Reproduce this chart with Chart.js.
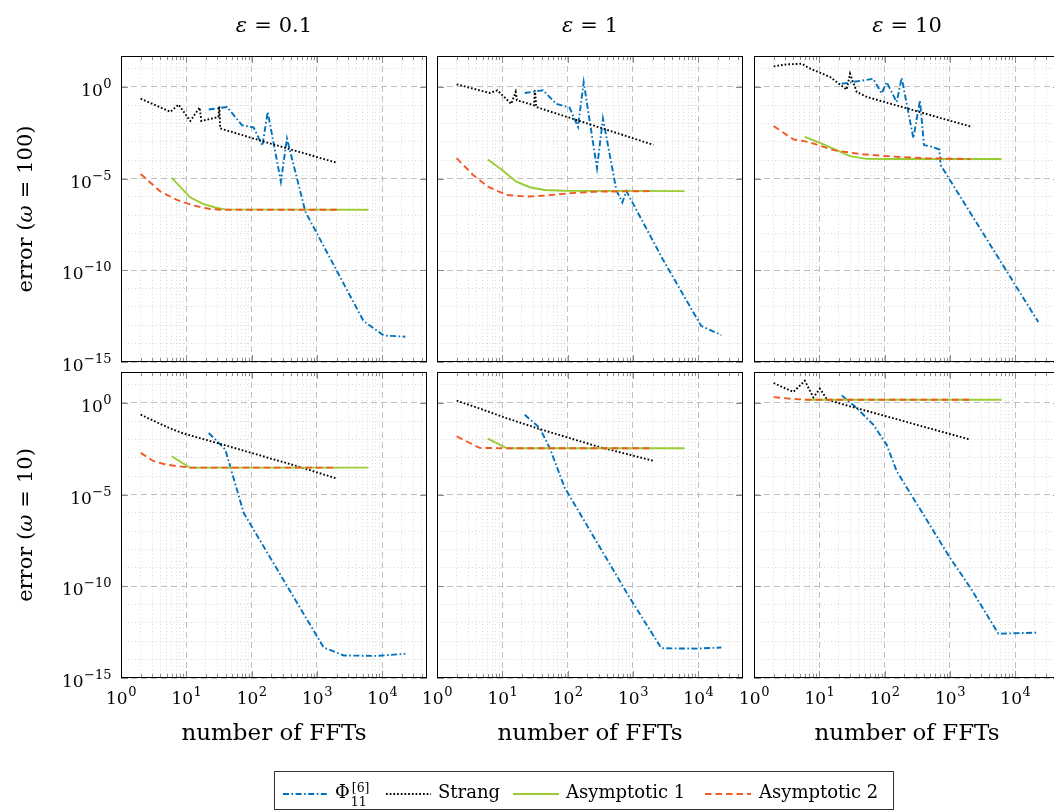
<!DOCTYPE html>
<html>
<head>
<meta charset="utf-8">
<title>Error vs number of FFTs</title>
<script src="https://cdn.jsdelivr.net/npm/chart.js@4.4.1/dist/chart.umd.min.js"></script>
<style>
  html, body { margin: 0; padding: 0; background: #fff; overflow: hidden; }
  #page { position: relative; width: 1054px; height: 810px; overflow: hidden; }
  #page canvas { position: absolute; }
</style>
</head>
<body>
<div id="page"></div>
<script>
// ---- labels ----
const epsLabels = ['0.1', '1', '10'];
const omegaLabels = ['100', '10'];
const seriesNames = ['Phi', 'Strang', 'Asymptotic 1', 'Asymptotic 2'];
const xTickExps = [0, 1, 2, 3, 4];
const yTickExps = [0, -5, -10, -15];

// ---- data, omega = 100 ----
const phiX_w100e01 = [22, 42, 71, 107, 146, 176, 280, 347, 663, 5160, 10500, 22528];
const phiY_w100e01 = [5.9e-2, 8.1e-2, 8.3e-3, 6.2e-3, 6.2e-4, 4.4e-2, 6.9e-6, 1.55e-3, 1.6e-7, 1.7e-13, 2.8e-14, 2.4e-14];
const strX_w100e01 = [2, 5.7, 7.6, 11.5, 16, 17, 31, 32, 33, 135, 2048];
const strY_w100e01 = [2.3e-1, 4.4e-2, 1.1e-1, 1.4e-2, 7.6e-2, 1.4e-2, 2.3e-2, 8.9e-2, 5.5e-3, 1.2e-3, 7.2e-5];
const as1X_w100e01 = [6, 11.5, 18.4, 29.5, 39.5, 6144];
const as1Y_w100e01 = [1.1e-5, 9.3e-7, 4.1e-7, 2.5e-7, 2.1e-7, 2.0e-7];
const as2X_w100e01 = [2, 4, 7.2, 12.9, 23, 37, 2048];
const as2Y_w100e01 = [1.8e-5, 2.0e-6, 6.9e-7, 3.4e-7, 2.2e-7, 2.0e-7, 2.0e-7];

const phiX_w100e1 = [22, 42, 67, 107, 144, 176, 281, 347, 556, 687, 791, 2880, 11100, 22528];
const phiY_w100e1 = [4.7e-1, 6.6e-1, 1.2e-1, 7.5e-2, 6.7e-3, 1.87, 3.7e-5, 1.9e-2, 2.4e-6, 5.0e-7, 2.1e-6, 3.8e-10, 9.1e-14, 2.95e-14];
const strX_w100e1 = [2, 6.4, 8.4, 13.7, 16, 16.7, 30.5, 31.6, 33, 2048];
const strY_w100e1 = [1.4, 4.7e-1, 6.6e-1, 1.2e-1, 5.4e-1, 1.9e-1, 1.0e-1, 6.6e-1, 8.1e-2, 7.0e-4];
const as1X_w100e1 = [6, 9.7, 16.4, 26.2, 44.5, 85, 6144];
const as1Y_w100e1 = [1.1e-4, 3.2e-5, 6.9e-6, 3.4e-6, 2.4e-6, 2.2e-6, 2.1e-6];
const as2X_w100e1 = [2, 3.56, 6, 11.5, 23.3, 47, 107, 275, 2048];
const as2Y_w100e1 = [1.3e-4, 1.6e-5, 3.7e-6, 1.3e-6, 1.05e-6, 1.2e-6, 1.6e-6, 1.95e-6, 2.1e-6];

const phiX_w100e10 = [22, 67, 90, 107, 153, 182, 275, 347, 400, 524, 687, 719, 22528];
const phiY_w100e10 = [1.5, 2.8, 4.4e-1, 1.87, 1.5e-1, 3.2, 1.6e-3, 1.9e-1, 6.8e-4, 5.5e-4, 3.9e-4, 5.5e-5, 1.5e-13];
const strX_w100e10 = [2, 3.16, 5.4, 6.8, 9.7, 14.6, 26.2, 29.5, 37.3, 53, 2048];
const strY_w100e10 = [13.3, 17.1, 18.5, 11.2, 6.5, 3.5, 7.2e-1, 5.3, 5.4e-1, 2.9e-1, 7.0e-3];
const as1X_w100e10 = [6, 10.2, 18.4, 29.5, 53, 121, 6144];
const as1Y_w100e10 = [1.9e-3, 9.0e-4, 3.6e-4, 1.7e-4, 1.2e-4, 1.17e-4, 1.17e-4];
const as2X_w100e10 = [2, 4, 6.8, 16.4, 42, 135, 442, 2048];
const as2Y_w100e10 = [7.3e-3, 1.4e-3, 1.0e-3, 3.6e-4, 2.2e-4, 1.6e-4, 1.3e-4, 1.17e-4];

// ---- data, omega = 10 ----
const phiX_w10e01 = [22, 39.5, 75.5, 1265, 2560, 8280, 22528];
const phiY_w10e01 = [2.3e-2, 2.9e-3, 1.0e-6, 4.6e-14, 1.7e-14, 1.6e-14, 2.1e-14];
const strX_w10e01 = [2, 5.4, 8.6, 33, 494, 2048];
const strY_w10e01 = [2.3e-1, 4.4e-2, 2.3e-2, 5.9e-3, 3.6e-4, 7.4e-5];
const as1X_w10e01 = [6, 11.2, 6144];
const as1Y_w10e01 = [1.25e-3, 3.0e-4, 3.0e-4];
const as2X_w10e01 = [2, 3.16, 4.8, 7.2, 11.2, 2048];
const as2Y_w10e01 = [1.9e-3, 6.7e-4, 4.4e-4, 3.6e-4, 3.0e-4, 3.0e-4];

const phiX_w10e1 = [22, 37.2, 53, 90, 889, 2720, 9330, 22528];
const phiY_w10e1 = [2.3e-1, 4.4e-2, 3.6e-3, 2.4e-5, 2.4e-11, 4.2e-14, 4.0e-14, 4.6e-14];
const strX_w10e1 = [2, 5.1, 11.5, 37.2, 275, 2048];
const strY_w10e1 = [1.34, 4.3e-1, 1.5e-1, 3.8e-2, 4.4e-3, 7.0e-4];
const as1X_w10e1 = [6, 11.8, 6144];
const as1Y_w10e1 = [1.14e-2, 3.4e-3, 3.4e-3];
const as2X_w10e1 = [2, 4.5, 11.8, 2048];
const as2Y_w10e1 = [1.5e-2, 3.55e-3, 3.4e-3, 3.4e-3];

const phiX_w10e10 = [22, 37.2, 67, 107, 153, 1000, 2048, 5500, 22528];
const phiY_w10e10 = [2.6, 5.4e-1, 6.6e-2, 5.4e-3, 1.9e-4, 3.6e-9, 8.5e-11, 2.6e-13, 3.0e-13];
const strX_w10e10 = [2, 4, 6, 8.1, 10.2, 13.2, 29.5, 2048];
const strY_w10e10 = [12.3, 4.0, 16.4, 2.0, 6.0, 1.5, 6.6e-1, 1.0e-2];
const as1X_w10e10 = [6, 6144];
const as1Y_w10e10 = [1.5, 1.5];
const as2X_w10e10 = [2, 4, 6.8, 2048];
const as2Y_w10e10 = [2.1, 1.65, 1.5, 1.5];

// ---- styles ----
const FONT = '"DejaVu Serif", serif';
const seriesColors = ['#0072bd', '#000000', '#9acd32', '#f15a24'];
const seriesDash = [[6, 2.5, 1.6, 2.5], [1.7, 2], [], [6.5, 4]];
const LINE_W = 1.9;

const colLeft = [121, 437, 754];
const rowTop = [56, 372];
const SIZE = 306;
const X_MIN = 1, X_MAX = 48300;
const Y_MIN = 1e-15, Y_MAX = 49;

const panels = [
  { row: 0, col: 0, s: [[phiX_w100e01, phiY_w100e01], [strX_w100e01, strY_w100e01], [as1X_w100e01, as1Y_w100e01], [as2X_w100e01, as2Y_w100e01]] },
  { row: 0, col: 1, s: [[phiX_w100e1, phiY_w100e1], [strX_w100e1, strY_w100e1], [as1X_w100e1, as1Y_w100e1], [as2X_w100e1, as2Y_w100e1]] },
  { row: 0, col: 2, s: [[phiX_w100e10, phiY_w100e10], [strX_w100e10, strY_w100e10], [as1X_w100e10, as1Y_w100e10], [as2X_w100e10, as2Y_w100e10]] },
  { row: 1, col: 0, s: [[phiX_w10e01, phiY_w10e01], [strX_w10e01, strY_w10e01], [as1X_w10e01, as1Y_w10e01], [as2X_w10e01, as2Y_w10e01]] },
  { row: 1, col: 1, s: [[phiX_w10e1, phiY_w10e1], [strX_w10e1, strY_w10e1], [as1X_w10e1, as1Y_w10e1], [as2X_w10e1, as2Y_w10e1]] },
  { row: 1, col: 2, s: [[phiX_w10e10, phiY_w10e10], [strX_w10e10, strY_w10e10], [as1X_w10e10, as1Y_w10e10], [as2X_w10e10, as2Y_w10e10]] }
];

// grid ticks: every m*10^e on x, every decade on y
function buildXTicks(scale) {
  const ticks = [];
  for (let e = xTickExps[0]; e <= xTickExps[xTickExps.length - 1] + 1; e++) {
    for (let m = 1; m <= 9; m++) {
      const v = Number(m + 'e' + e);
      if (v >= X_MIN && v <= X_MAX) ticks.push({ value: v, major: m === 1 });
    }
  }
  scale.ticks = ticks;
}
function buildYTicks(scale) {
  const ticks = [];
  for (let e = -15; e <= 1; e++) {
    ticks.push({ value: Number('1e' + e), major: e % 5 === 0 });
  }
  scale.ticks = ticks;
}

function drawPieces(ctx, pieces, cx, baseY) {
  let total = 0;
  pieces.forEach(p => { ctx.font = p.font; p.w = ctx.measureText(p.text).width; total += p.gap + p.w; });
  let x = cx - total / 2;
  pieces.forEach(p => { x += p.gap; ctx.font = p.font; ctx.fillText(p.text, x, baseY); x += p.w; });
}

function powLabel(ctx, e, anchorX, baseY, align) {
  const expTxt = e < 0 ? '\u2212' + (-e) : String(e);
  ctx.font = '17px ' + FONT;
  const wb = ctx.measureText('10').width;
  ctx.font = '13px ' + FONT;
  const we = ctx.measureText(expTxt).width;
  const left = align === 'center' ? anchorX - (wb + we) / 2 : anchorX - wb - we;
  ctx.font = '17px ' + FONT;
  ctx.fillText('10', left, baseY);
  ctx.font = '13px ' + FONT;
  ctx.fillText(expTxt, left + wb + 0.5, baseY - 8);
}

// frame, inward ticks, tick labels and panel titles
const panelDecor = {
  id: 'panelDecor',
  afterDatasetsDraw(chart, args, o) {
    const { ctx, chartArea: ca } = chart;
    const xs = chart.scales.x, ys = chart.scales.y;
    ctx.save();
    ctx.strokeStyle = '#8c8c8c';
    ctx.lineWidth = 1;
    ctx.setLineDash([]);
    ctx.beginPath();
    xs.ticks.forEach(t => {
      const px = Math.round(xs.getPixelForValue(t.value)) + 0.5;
      const len = t.major ? 7 : 4;
      ctx.moveTo(px, ca.bottom); ctx.lineTo(px, ca.bottom - len);
      ctx.moveTo(px, ca.top); ctx.lineTo(px, ca.top + len);
    });
    ys.ticks.filter(t => t.major).forEach(t => {
      const py = Math.round(ys.getPixelForValue(t.value)) + 0.5;
      ctx.moveTo(ca.left, py); ctx.lineTo(ca.left + 7, py);
      ctx.moveTo(ca.right, py); ctx.lineTo(ca.right - 7, py);
    });
    ctx.stroke();

    ctx.strokeStyle = '#000';
    ctx.strokeRect(ca.left + 0.5, ca.top + 0.5, ca.width - 1, ca.height - 1);

    ctx.fillStyle = '#000';
    ctx.textAlign = 'left';
    ctx.textBaseline = 'alphabetic';
    if (o.xLabels) {
      xTickExps.forEach(e => powLabel(ctx, e, xs.getPixelForValue(Number('1e' + e)), ca.bottom + 26, 'center'));
      ctx.font = '23px ' + FONT;
      ctx.textAlign = 'center';
      ctx.fillText('number of FFTs', (ca.left + ca.right) / 2, ca.bottom + 62);
      ctx.textAlign = 'left';
    }
    if (o.yLabels) {
      yTickExps.forEach(e => powLabel(ctx, e, ca.left - 10, ys.getPixelForValue(Number('1e' + e)) + 9, 'right'));
      ctx.save();
      ctx.translate(ca.left - 89, (ca.top + ca.bottom) / 2);
      ctx.rotate(-Math.PI / 2);
      drawPieces(ctx, [
        { text: 'error (', font: '21px ' + FONT, gap: 0 },
        { text: '\u03c9', font: 'italic 21px ' + FONT, gap: 0 },
        { text: '=', font: '21px ' + FONT, gap: 7 },
        { text: o.omega + ')', font: '21px ' + FONT, gap: 7 }
      ], 0, 0);
      ctx.restore();
    }
    if (o.eps) {
      drawPieces(ctx, [
        { text: '\u03b5', font: 'italic 21px ' + FONT, gap: 0 },
        { text: '=', font: '21px ' + FONT, gap: 7 },
        { text: o.eps, font: '21px ' + FONT, gap: 7 }
      ], (ca.left + ca.right) / 2, ca.top - 24);
    }
    ctx.restore();
  }
};

const page = document.getElementById('page');

panels.forEach(p => {
  const padL = p.col === 0 ? 121 : 40;
  const padT = p.row === 0 ? 56 : 12;
  const padR = 24;
  const padB = p.row === 1 ? 80 : 14;
  const w = padL + SIZE + padR, h = padT + SIZE + padB;

  const canvas = document.createElement('canvas');
  canvas.width = w; canvas.height = h;
  canvas.style.width = w + 'px'; canvas.style.height = h + 'px';
  canvas.style.left = (colLeft[p.col] - padL) + 'px';
  canvas.style.top = (rowTop[p.row] - padT) + 'px';
  page.appendChild(canvas);

  const datasets = p.s.map((xy, i) => ({
    label: seriesNames[i],
    data: xy[0].map((x, k) => ({ x: x, y: xy[1][k] })),
    borderColor: seriesColors[i],
    borderWidth: LINE_W,
    borderDash: seriesDash[i],
    pointRadius: 0,
    tension: 0,
    fill: false,
    order: 3 - i
  }));

  new Chart(canvas.getContext('2d'), {
    type: 'line',
    data: { datasets: datasets },
    options: {
      responsive: false,
      animation: false,
      events: [],
      layout: { padding: { left: padL, top: padT, right: padR, bottom: padB } },
      plugins: {
        legend: { display: false },
        tooltip: { enabled: false },
        panelDecor: {
          xLabels: p.row === 1,
          yLabels: p.col === 0,
          omega: omegaLabels[p.row],
          eps: p.row === 0 ? epsLabels[p.col] : null
        }
      },
      scales: {
        x: {
          type: 'logarithmic', min: X_MIN, max: X_MAX,
          afterBuildTicks: buildXTicks,
          ticks: { display: false },
          grid: {
            drawTicks: false,
            color: c => (c.tick && c.tick.major) ? '#b8b8b8' : '#d0d0d0',
            lineWidth: c => (c.tick && c.tick.major) ? 0.9 : 0.8
          },
          border: { display: false, dash: c => (c.tick && c.tick.major) ? [6, 4] : [1, 2.5] }
        },
        y: {
          type: 'logarithmic', min: Y_MIN, max: Y_MAX,
          afterBuildTicks: buildYTicks,
          ticks: { display: false },
          grid: {
            drawTicks: false,
            color: c => (c.tick && c.tick.major) ? '#b8b8b8' : '#d0d0d0',
            lineWidth: c => (c.tick && c.tick.major) ? 0.9 : 0.8
          },
          border: { display: false, dash: c => (c.tick && c.tick.major) ? [6, 4] : [1, 2.5] }
        }
      }
    },
    plugins: [panelDecor]
  });
});

// legend box under the panels
function drawLegend() {
  const ox = 270, oy = 766;
  const canvas = document.createElement('canvas');
  canvas.width = 640; canvas.height = 44;
  canvas.style.left = ox + 'px'; canvas.style.top = oy + 'px';
  page.appendChild(canvas);
  const ctx = canvas.getContext('2d');

  ctx.strokeStyle = '#333';
  ctx.lineWidth = 1;
  ctx.strokeRect(274.5 - ox, 771.5 - oy, 619, 38);

  const items = [
    { x0: 283, x1: 329, tx: 335 },
    { x0: 386, x1: 431, tx: 438 },
    { x0: 513, x1: 559, tx: 566 },
    { x0: 705, x1: 751, tx: 759 }
  ];
  const lineY = 794 - oy, baseY = 798 - oy;
  items.forEach((it, i) => {
    ctx.strokeStyle = seriesColors[i];
    ctx.lineWidth = LINE_W;
    ctx.setLineDash(seriesDash[i]);
    ctx.beginPath();
    ctx.moveTo(it.x0 - ox, lineY);
    ctx.lineTo(it.x1 - ox, lineY);
    ctx.stroke();
    ctx.setLineDash([]);
    ctx.fillStyle = '#000';
    if (i === 0) {
      ctx.font = '18px ' + FONT;
      ctx.fillText('\u03a6', it.tx - ox, baseY);
      const wPhi = ctx.measureText('\u03a6').width;
      ctx.font = '12.5px ' + FONT;
      ctx.fillText('[6]', it.tx - ox + wPhi + 2, baseY - 6);
      ctx.fillText('11', it.tx - ox + wPhi + 1, baseY + 8);
    } else {
      ctx.font = '18px ' + FONT;
      ctx.fillText(seriesNames[i], it.tx - ox, baseY);
    }
  });
}
drawLegend();
</script>
</body>
</html>
